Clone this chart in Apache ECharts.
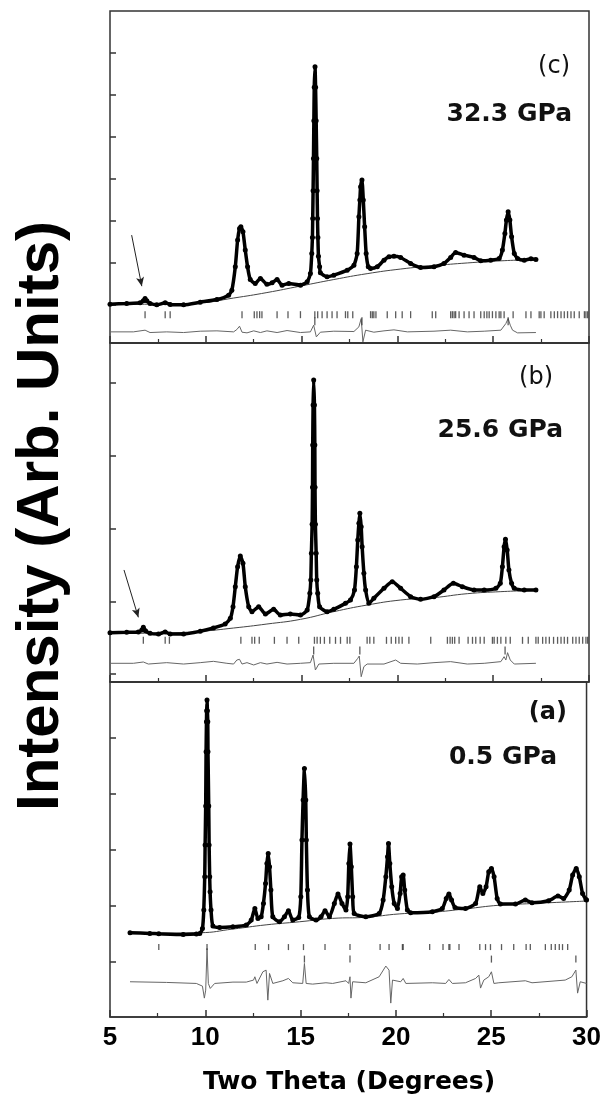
<!DOCTYPE html>
<html>
<head>
<meta charset="utf-8">
<script src="https://cdn.jsdelivr.net/npm/echarts@6/dist/echarts.min.js"></script>
<style>html,body{margin:0;padding:0;background:#fff}#chart{width:604px;height:1104px}</style>
</head>
<body>
<div id="chart"></div>
<script>
// ---------- data (two-theta in degrees, intensity in arbitrary units) ----------
var obsC = [[5.00,-976],[5.87,-960],[6.57,-944],[6.74,-897],[6.83,-841],[6.92,-897],[7.09,-960],[7.44,-992],[7.88,-944],[8.14,-984],[8.84,-992],[9.71,-929],[10.58,-865],[11.19,-762],[11.36,-643],[11.54,-87],[11.66,548],[11.76,825],[11.83,865],[11.94,746],[12.06,310],[12.18,-87],[12.32,-389],[12.58,-484],[12.85,-365],[13.19,-500],[13.46,-468],[13.72,-389],[13.98,-524],[14.33,-484],[14.94,-524],[15.29,-444],[15.46,-246],[15.53,230],[15.565,611],[15.58,1063],[15.60,1722],[15.62,2492],[15.64,3389],[15.66,4183],[15.70,4675],[15.73,4183],[15.76,3389],[15.79,2492],[15.81,1722],[15.83,1063],[15.85,611],[15.88,167],[15.94,-87],[15.98,-230],[16.33,-325],[16.68,-286],[17.38,-167],[17.73,-48],[17.90,230],[17.99,1103],[18.04,1500],[18.08,1818],[18.15,1976],[18.22,1500],[18.29,865],[18.37,230],[18.48,-87],[18.60,-127],[18.95,-87],[19.30,71],[19.56,151],[19.82,167],[20.17,135],[20.69,-8],[21.21,-103],[21.91,-87],[22.43,-8],[22.78,135],[23.04,254],[23.48,190],[24.00,135],[24.35,56],[24.87,71],[25.31,111],[25.48,310],[25.61,706],[25.69,1024],[25.78,1222],[25.87,1024],[25.96,627],[26.10,230],[26.27,111],[26.62,71],[26.97,103],[27.23,87]];
var bgC = [[5.00,-980],[7.50,-975],[9.71,-944],[11.45,-830],[13.19,-700],[14.94,-545],[16.68,-390],[18.42,-250],[20.17,-140],[21.91,-60],[23.65,5],[25.40,55],[27.23,87]];
var diffC = [[5.00,-1635],[6.22,-1635],[6.83,-1595],[7.09,-1651],[7.96,-1635],[8.84,-1651],[9.71,-1619],[10.58,-1611],[11.45,-1635],[11.62,-1580],[11.76,-1500],[11.89,-1643],[12.15,-1659],[12.50,-1611],[12.85,-1651],[13.19,-1611],[13.72,-1651],[14.24,-1603],[14.94,-1651],[15.46,-1635],[15.63,-1476],[15.77,-1754],[15.98,-1643],[16.68,-1619],[17.73,-1627],[17.99,-1516],[18.11,-1318],[18.20,-1873],[18.34,-1595],[18.77,-1643],[19.30,-1611],[19.82,-1587],[20.52,-1635],[21.91,-1619],[22.78,-1595],[23.65,-1635],[24.53,-1619],[25.40,-1595],[25.66,-1437],[25.78,-1318],[25.89,-1476],[26.01,-1595],[26.27,-1659],[27.23,-1651]];
var hklC1 = [6.83,7.88,8.14,11.89,12.53,12.67,12.81,12.93,13.72,14.29,14.94,15.69,15.84,16.07,16.33,16.59,16.85,17.29,17.41,17.67,18.60,18.69,18.77,18.88,19.47,19.91,20.25,20.69,21.82,22.00,22.78,22.87,22.96,23.04,23.22,23.48,23.74,24.00,24.35,24.53,24.67,24.79,24.96,25.14,25.31,25.40,25.57,26.04,26.71,26.97,27.40,27.49,27.66,28.01,28.19,28.36,28.54,28.71,28.88,29.06,29.23,29.49,29.76,29.84,29.93];
var hklC2 = [15.69,18.15,25.78];

var obsB = [[5.00,568],[5.87,573],[6.48,577],[6.66,605],[6.74,641],[6.85,596],[7.09,559],[7.53,550],[7.88,577],[8.14,550],[8.84,550],[9.71,587],[10.40,632],[11.01,687],[11.28,765],[11.42,925],[11.54,1200],[11.66,1475],[11.80,1622],[11.94,1521],[12.06,1200],[12.24,925],[12.41,857],[12.76,925],[13.11,825],[13.54,889],[13.89,811],[14.41,825],[14.94,811],[15.29,880],[15.43,1109],[15.48,1292],[15.51,1659],[15.55,2057],[15.57,2566],[15.58,3148],[15.60,3698],[15.63,4041],[15.67,3698],[15.69,3148],[15.70,2566],[15.72,2057],[15.76,1659],[15.79,1292],[15.84,1109],[15.94,925],[16.33,857],[16.68,889],[17.29,971],[17.55,1017],[17.76,1155],[17.86,1475],[17.93,1842],[17.99,2071],[18.04,2209],[18.11,2025],[18.16,1750],[18.25,1384],[18.34,1155],[18.51,971],[18.77,1040],[19.30,1178],[19.73,1269],[20.17,1178],[20.69,1063],[21.21,1026],[21.91,1063],[22.43,1155],[22.92,1246],[23.39,1200],[24.00,1155],[24.53,1155],[25.14,1178],[25.37,1246],[25.48,1475],[25.57,1750],[25.64,1851],[25.73,1705],[25.82,1430],[25.96,1246],[26.10,1178],[26.62,1155],[27.23,1155]];
var bgB = [[5.00,559],[7.50,562],[9.71,587],[11.45,632],[13.19,687],[14.94,751],[16.68,857],[18.42,948],[20.17,1017],[21.91,1050],[23.65,1104],[25.40,1132],[27.23,1150]];
var diffB = [[5.00,147],[6.22,147],[6.74,165],[7.00,137],[7.96,156],[8.84,137],[9.71,156],[10.40,174],[11.10,147],[11.45,137],[11.62,192],[11.76,202],[11.89,137],[12.15,156],[12.50,124],[12.85,156],[13.19,137],[13.72,160],[14.24,137],[14.94,147],[15.46,156],[15.60,261],[15.72,55],[15.90,137],[16.68,147],[17.73,147],[17.93,215],[18.01,247],[18.11,-37],[18.25,101],[18.42,137],[19.30,137],[19.91,192],[20.17,147],[21.04,137],[21.91,156],[22.78,170],[23.65,137],[24.53,147],[25.40,170],[25.57,238],[25.66,192],[25.75,293],[25.89,192],[26.10,137],[27.23,147]];
var hklB1 = [6.74,7.88,8.10,11.83,12.41,12.55,12.79,13.58,14.24,14.85,15.67,15.81,15.98,16.19,16.47,16.77,17.03,17.38,17.52,18.42,18.56,18.77,19.43,19.68,19.91,20.08,20.25,20.60,21.74,22.61,22.75,22.87,22.99,23.22,23.69,23.92,24.09,24.32,24.53,24.96,25.05,25.22,25.40,25.66,25.89,26.53,26.83,27.23,27.35,27.58,27.75,27.93,28.15,28.36,28.54,28.71,28.88,29.15,29.32,29.49,29.67,29.84,29.93];
var hklB2 = [15.63,18.04,25.62];

var obsA = [[6.05,524],[7.09,512],[7.56,506],[8.84,494],[9.53,500],[9.71,512],[9.85,601],[9.92,929],[9.97,1524],[9.99,2089],[10.02,2786],[10.04,3756],[10.06,4292],[10.07,4488],[10.09,4678],[10.11,4488],[10.13,4292],[10.14,3756],[10.18,2786],[10.20,2089],[10.23,1524],[10.25,1256],[10.30,929],[10.40,643],[10.75,619],[11.45,631],[12.15,661],[12.41,750],[12.60,958],[12.76,780],[12.93,809],[13.05,1048],[13.16,1405],[13.23,1762],[13.30,1940],[13.37,1702],[13.44,1286],[13.54,809],[13.89,720],[14.15,809],[14.36,917],[14.59,750],[14.90,798],[15.01,1167],[15.07,2178],[15.13,2893],[15.20,3458],[15.27,2893],[15.30,2178],[15.36,1286],[15.46,809],[15.81,750],[16.07,809],[16.28,917],[16.51,809],[16.77,1048],[16.96,1214],[17.17,1048],[17.38,929],[17.47,1167],[17.53,1762],[17.59,2107],[17.66,1702],[17.73,1167],[17.81,869],[18.42,809],[19.12,869],[19.33,1107],[19.47,1524],[19.56,1881],[19.61,2119],[19.68,1762],[19.78,1345],[19.91,1048],[20.08,958],[20.22,1226],[20.30,1524],[20.38,1553],[20.46,1286],[20.60,929],[20.77,881],[21.91,899],[22.43,958],[22.64,1137],[22.78,1214],[22.92,1107],[23.10,976],[23.65,958],[24.18,1048],[24.40,1345],[24.56,1226],[24.73,1345],[24.87,1613],[25.01,1673],[25.15,1524],[25.31,1137],[25.48,1036],[26.27,1036],[26.79,1107],[27.14,1059],[28.01,1095],[28.50,1179],[28.80,1137],[29.09,1286],[29.27,1553],[29.46,1673],[29.62,1524],[29.79,1226],[29.97,1119],[30.00,1110]];
var bgA = [[6.05,512],[9.71,524],[11.45,590],[13.19,665],[14.94,720],[16.68,780],[18.42,800],[20.17,860],[21.91,890],[23.65,950],[25.40,1015],[27.14,1045],[30.00,1090]];
var diffA = [[6.05,-351],[7.96,-363],[9.53,-381],[9.85,-429],[9.95,-643],[10.02,-500],[10.09,244],[10.16,-381],[10.26,-470],[10.49,-381],[11.45,-357],[12.15,-357],[12.53,-321],[12.60,-262],[12.71,-381],[13.02,-173],[13.19,-143],[13.28,-679],[13.37,-202],[13.54,-381],[14.07,-333],[14.36,-292],[14.59,-369],[15.11,-381],[15.20,-24],[15.29,-381],[15.63,-393],[16.33,-369],[16.68,-381],[17.38,-333],[17.52,-381],[17.59,-262],[17.64,-643],[17.73,-351],[18.42,-369],[19.12,-262],[19.47,-71],[19.64,-143],[19.73,-732],[19.82,-321],[20.25,-351],[20.38,-292],[20.52,-381],[21.91,-369],[22.61,-381],[22.78,-310],[22.96,-381],[23.65,-369],[24.18,-292],[24.35,-232],[24.44,-464],[24.61,-321],[24.87,-262],[25.01,-173],[25.14,-381],[25.40,-369],[26.79,-333],[27.14,-369],[28.88,-321],[29.23,-262],[29.44,-143],[29.53,-554],[29.67,-351],[30.00,-381]];
var hklA1 = [7.56,10.09,12.62,13.32,14.36,15.15,16.28,17.59,19.17,19.64,20.34,20.38,21.77,22.47,22.78,22.83,23.31,24.40,24.70,24.96,25.54,26.18,26.83,27.05,27.84,28.15,28.36,28.57,28.74,29.01];
var hklA2 = [15.20,17.59,25.01,29.44];

var panelLetters = ['(c)', '(b)', '(a)'];
var pressures = ['32.3 GPa', '25.6 GPa', '0.5 GPa'];
var yTicksC = [-1000, 0, 1000, 2000, 3000, 4000, 5000];
var yTicksB = [0, 1000, 2000, 3000, 4000];
var yTicksA = [0, 1000, 2000, 3000, 4000];
// arrows marking the extra weak reflection (start point, end point)
var arrowC = [[6.13, 667], [6.66, -548]];
var arrowB = [[5.73, 1430], [6.48, 779]];

// ---------- layout / styles ----------
var FRAME = '#333';
var panels = [
  {top: 11, height: 332, min: -1900, max: 6000, ticks: yTicksC, obs: obsC, bg: bgC, diff: diffC, h1: hklC1, h2: hklC2, r1: -1226, r2: -1381, th: 7, arrow: arrowC},
  {top: 343, height: 339, min: -110, max: 4550, ticks: yTicksB, obs: obsB, bg: bgB, diff: diffB, h1: hklB1, h2: hklB2, r1: 463, r2: 323, th: 7, arrow: arrowB},
  {top: 682, height: 335, min: -980, max: 5000, ticks: yTicksA, obs: obsA, bg: bgA, diff: diffA, h1: hklA1, h2: hklA2, r1: 268, r2: 54, th: 6, arrow: null}
];

var grids = [], xAxes = [], yAxes = [], series = [];
panels.forEach(function (p, i) {
  grids.push({left: 110, right: 15, top: p.top, height: p.height, show: true, borderColor: FRAME, borderWidth: 1.5, backgroundColor: 'transparent'});
  var last = (i === panels.length - 1);
  xAxes.push({
    gridIndex: i, type: 'value', min: 5, max: 30, interval: 5,
    axisLine: {show: true, onZero: false, lineStyle: {color: FRAME, width: 1.5}},
    axisTick: {show: true, inside: true, length: 7, lineStyle: {color: FRAME, width: 1.5}},
    minorTick: {show: true, splitNumber: 2, length: 4, lineStyle: {color: FRAME, width: 1.2}},
    axisLabel: {show: last, margin: 8, color: '#000', fontSize: 26, fontWeight: 'bold', fontFamily: '"Liberation Sans", Arial, sans-serif'},
    splitLine: {show: false}
  });
  yAxes.push({
    gridIndex: i, type: 'value', min: p.min, max: p.max,
    axisLine: {show: false},
    axisTick: {show: true, inside: true, length: 6, customValues: p.ticks, lineStyle: {color: FRAME, width: 1.5}},
    axisLabel: {show: false},
    splitLine: {show: false}
  });
  series.push({
    type: 'line', xAxisIndex: i, yAxisIndex: i, data: p.bg, smooth: true,
    symbol: 'none', lineStyle: {color: '#444', width: 1}, z: 2
  });
  var obs = {
    type: 'line', xAxisIndex: i, yAxisIndex: i, data: p.obs, smooth: 0.2,
    symbol: 'circle', symbolSize: 5, showSymbol: true, showAllSymbol: true,
    itemStyle: {color: '#000'}, lineStyle: {color: '#000', width: 3.5}, z: 3
  };
  if (p.arrow) {
    obs.markLine = {
      silent: true, symbol: ['none', 'arrow'], symbolSize: [6, 9],
      label: {show: false}, lineStyle: {color: '#222', width: 1, type: 'solid'},
      data: [[{coord: p.arrow[0]}, {coord: p.arrow[1]}]]
    };
  }
  series.push(obs);
  series.push({
    type: 'line', xAxisIndex: i, yAxisIndex: i, data: p.diff,
    symbol: 'none', lineStyle: {color: '#666', width: 1}, z: 2
  });
  series.push({
    type: 'scatter', xAxisIndex: i, yAxisIndex: i,
    data: p.h1.map(function (v) { return [v, p.r1]; }),
    symbol: 'rect', symbolSize: [1.3, p.th], itemStyle: {color: '#333'}, z: 2
  });
  series.push({
    type: 'scatter', xAxisIndex: i, yAxisIndex: i,
    data: p.h2.map(function (v) { return [v, p.r2]; }),
    symbol: 'rect', symbolSize: [1.3, p.th + 1], itemStyle: {color: '#333'}, z: 2
  });
});

var labelPos = [
  {lx: 570, ly: 67, px: 572, py: 114, bold: false},
  {lx: 553, ly: 378, px: 563, py: 430, bold: false},
  {lx: 567, ly: 713, px: 557, py: 757, bold: true}
];
var graphics = [];
labelPos.forEach(function (l, i) {
  graphics.push({type: 'text', x: l.lx, y: l.ly, z: 10, style: {text: panelLetters[i], fill: '#111', textAlign: 'right', textVerticalAlign: 'middle', font: (l.bold ? 'bold ' : '') + '24px "DejaVu Sans"'}});
  graphics.push({type: 'text', x: l.px, y: l.py, z: 10, style: {text: pressures[i], fill: '#111', textAlign: 'right', textVerticalAlign: 'middle', font: 'bold 25px "DejaVu Sans"'}});
});
graphics.push({type: 'text', x: 41, y: 516, rotation: Math.PI / 2, z: 10, style: {text: 'Intensity (Arb. Units)', fill: '#000', textAlign: 'center', textVerticalAlign: 'middle', font: 'bold 60px "Liberation Sans"'}});
graphics.push({type: 'text', x: 349, y: 1082, z: 10, style: {text: 'Two Theta (Degrees)', fill: '#000', textAlign: 'center', textVerticalAlign: 'middle', font: 'bold 25px "DejaVu Sans"'}});

var chart = echarts.init(document.getElementById('chart'));
chart.setOption({
  animation: false,
  backgroundColor: '#fff',
  grid: grids,
  xAxis: xAxes,
  yAxis: yAxes,
  series: series,
  graphic: graphics
});
</script>
</body>
</html>
